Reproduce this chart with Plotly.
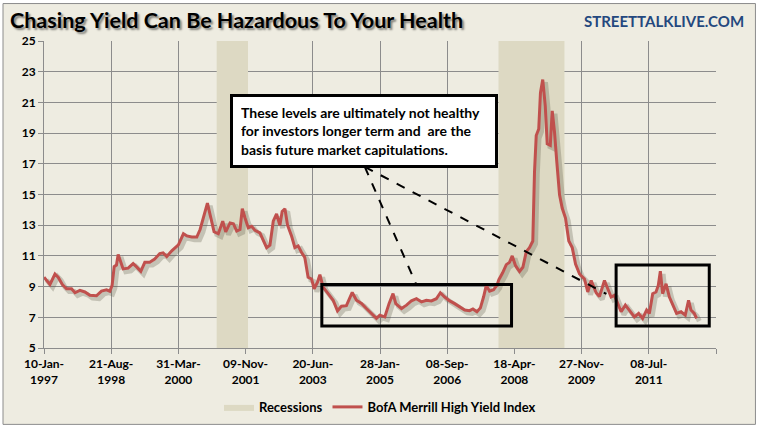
import pandas as pd
import plotly.graph_objects as go

# ---------------- data ----------------
dates = [
    "1997-01-10", "1997-03-03", "1997-04-16", "1997-05-15", "1997-06-19", "1997-07-26", "1997-09-08", "1997-10-08", "1997-11-20",
    "1998-01-03", "1998-02-15", "1998-04-14", "1998-05-28", "1998-07-11", "1998-08-09", "1998-08-29", "1998-09-16", "1998-10-06", "1998-10-21", "1998-11-05", "1998-12-03",
    "1999-01-16", "1999-03-01", "1999-03-29", "1999-05-07", "1999-06-11", "1999-07-24", "1999-09-06", "1999-10-20", "1999-11-18", "1999-12-20",
    "2000-02-02", "2000-03-31", "2000-05-14", "2000-06-13", "2000-07-26", "2000-09-08", "2000-10-07", "2000-11-05", "2000-12-10",
    "2001-01-02", "2001-02-06", "2001-03-15", "2001-04-23", "2001-05-19", "2001-06-26", "2001-07-25", "2001-08-23", "2001-09-21", "2001-10-11", "2001-11-04", "2001-12-02",
    "2002-01-01", "2002-01-30", "2002-03-14", "2002-04-12", "2002-05-12", "2002-06-10", "2002-07-09", "2002-08-07", "2002-09-05", "2002-09-25", "2002-10-19", "2002-11-11", "2002-12-16",
    "2003-01-14", "2003-02-12", "2003-03-14", "2003-04-11", "2003-05-10", "2003-06-09", "2003-07-02", "2003-07-31", "2003-08-21", "2003-09-18", "2003-11-01", "2003-12-15",
    "2004-01-22", "2004-02-26", "2004-04-09", "2004-05-30", "2004-07-06", "2004-08-19", "2004-10-01", "2004-11-14", "2004-12-28",
    "2005-01-26", "2005-03-11", "2005-04-17", "2005-05-22", "2005-06-15", "2005-08-04", "2005-09-17", "2005-10-30", "2005-12-13",
    "2006-01-26", "2006-03-10", "2006-04-23", "2006-06-05", "2006-07-10", "2006-08-17", "2006-09-30", "2006-11-12", "2006-12-26",
    "2007-02-08", "2007-03-23", "2007-04-21", "2007-05-26", "2007-06-25", "2007-07-23", "2007-08-16", "2007-09-14", "2007-10-19", "2007-11-17", "2007-12-04",
    "2008-01-06", "2008-02-07", "2008-03-06", "2008-03-30", "2008-04-28", "2008-06-02", "2008-07-01", "2008-07-31", "2008-08-28", "2008-09-26", "2008-10-11", "2008-10-26", "2008-11-17", "2008-12-02", "2008-12-22",
    "2009-01-13", "2009-01-30", "2009-02-26", "2009-03-15", "2009-04-04", "2009-04-24", "2009-05-18", "2009-06-10", "2009-07-09", "2009-08-07", "2009-09-06", "2009-10-05", "2009-11-09", "2009-12-22",
    "2010-01-20", "2010-02-19", "2010-04-03", "2010-05-02", "2010-06-15", "2010-07-14", "2010-08-12", "2010-09-10", "2010-10-09", "2010-11-08", "2010-12-15",
    "2011-01-19", "2011-03-04", "2011-04-10", "2011-05-15", "2011-06-19", "2011-07-13", "2011-08-11", "2011-09-09", "2011-09-29", "2011-10-17", "2011-11-06", "2011-12-06",
    "2012-01-04", "2012-02-01", "2012-03-07", "2012-04-15", "2012-05-22", "2012-06-20", "2012-07-11", "2012-08-09", "2012-08-29",
]
hy_yield = [
    9.61, 9.14, 9.82, 9.6, 9.14, 8.86, 8.86, 8.6, 8.75,
    8.65, 8.43, 8.4, 8.71, 8.79, 8.7, 9.08, 10.3, 10.4, 11.1, 10.8, 10.15,
    10.2, 10.5, 10.3, 10.0, 10.58, 10.58, 10.79, 11.15, 11.2, 10.96,
    11.33, 11.72, 12.44, 12.3, 12.23, 12.23, 12.72, 13.52, 14.44,
    13.69, 12.57, 12.44, 13.26, 12.57, 13.15, 13.1, 12.62, 12.72, 14.07, 13.47, 12.83,
    12.93, 12.66, 12.5, 12.08, 11.54, 11.7, 13.26, 13.73, 13.0, 13.9, 14.07, 13.0, 12.3,
    11.54, 11.65, 11.22, 10.9, 9.61, 9.5, 8.86, 9.29, 9.78, 8.97, 8.54, 8.11,
    7.42, 7.72, 7.76, 8.62, 8.11, 7.9, 7.57, 7.23, 6.93,
    7.14, 7.03, 7.89, 8.54, 7.89, 7.57, 7.79, 8.07, 8.21,
    8.0, 8.11, 8.07, 8.21, 8.6, 8.32, 8.07, 7.89, 7.68,
    7.47, 7.43, 7.54, 7.36, 7.6, 8.32, 9.08, 8.7, 8.8, 9.08, 9.45,
    9.9, 10.43, 10.58, 11.0, 10.36, 9.98, 10.26, 11.28, 11.54, 11.97, 16.48, 18.84, 19.27, 21.63, 22.49,
    20.77, 18.3, 18.2, 20.45, 19.06, 17.13, 14.98, 14.12, 13.47, 11.97, 11.54, 10.47, 9.82, 9.5,
    8.65, 9.4, 8.6, 8.35, 9.4, 8.86, 8.32, 8.43, 7.89, 7.36, 7.79,
    7.42, 7.03, 7.25, 6.93, 7.47, 7.25, 8.54, 8.65, 9.08, 10.0, 8.54, 9.18,
    8.32, 7.89, 7.25, 7.36, 7.14, 8.11, 7.47, 7.25, 6.93,
]
recession_starts = ["2001-03-01", "2007-12-01"]
recession_ends = ["2001-11-30", "2009-06-30"]

tick_dates = ["1997-01-10", "1998-08-21", "2000-03-31", "2001-11-09", "2003-06-20", "2005-01-28",
              "2006-09-08", "2008-04-18", "2009-11-27", "2011-07-08", "2013-02-15"]
tick_labels = ["10-Jan-<br>1997", "21-Aug-<br>1998", "31-Mar-<br>2000", "09-Nov-<br>2001", "20-Jun-<br>2003",
               "28-Jan-<br>2005", "08-Sep-<br>2006", "18-Apr-<br>2008", "27-Nov-<br>2009", "08-Jul-<br>2011", ""]
y_ticks = [5, 7, 9, 11, 13, 15, 17, 19, 21, 23, 25]

# highlight boxes (date range, value range)
box_x0 = ["2003-09-07", "2010-09-25"]
box_x1 = ["2008-03-24", "2012-12-18"]
box_y0 = [6.44, 6.44]
box_y1 = [9.13, 10.4]
# dashed pointer lines from the note
pointer_origin = ("2004-09-17", 16.8)
pointer_ends = [("2005-12-07", 9.22), ("2010-07-02", 8.52)]

note_text = ("These levels are ultimately not healthy<br>for investors longer term and  are the"
             "<br>basis future market capitulations.")

# ---------------- styles ----------------
BG = "#EEECE1"
GRID = "#8C8C8C"
LINE = "#C0504D"
REC = "#DDD9C3"
FONT = "Lato"

fig = go.Figure()

# recessions as filled polygons
rx, ry = [], []
y_lo, y_hi = y_ticks[0], y_ticks[-1]
for s, e in zip(recession_starts, recession_ends):
    rx += [s, s, e, e, s, None]
    ry += [y_lo, y_hi, y_hi, y_lo, y_lo, None]
fig.add_trace(go.Scatter(x=rx, y=ry, fill="toself", fillcolor=REC, mode="lines",
                         line=dict(width=0, color=REC), name="Recessions", hoverinfo="skip"))

# shadow of the line
dts = pd.to_datetime(dates)
fig.add_trace(go.Scatter(x=dts + pd.Timedelta(days=24), y=[v - 0.18 for v in hy_yield], mode="lines",
                         line=dict(color="rgba(90,85,70,0.28)", width=5), showlegend=False, hoverinfo="skip"))
fig.add_trace(go.Scatter(x=dts, y=hy_yield, mode="lines", line=dict(color=LINE, width=3),
                         name="BofA Merrill High Yield Index"))

shapes = []
for x0, x1, y0, y1 in zip(box_x0, box_x1, box_y0, box_y1):
    shapes.append(dict(type="rect", xref="x", yref="y", x0=x0, x1=x1, y0=y0, y1=y1,
                       line=dict(color="black", width=3), fillcolor="rgba(0,0,0,0)"))
for xe, ye in pointer_ends:
    shapes.append(dict(type="line", xref="x", yref="y", x0=pointer_origin[0], y0=pointer_origin[1],
                       x1=xe, y1=ye, line=dict(color="black", width=2, dash="dash")))
# chart frame
shapes.append(dict(type="rect", xref="paper", yref="paper", x0=-0.061, x1=1.0587, y0=-0.2488, y1=1.122,
                   line=dict(color="#8C8C8C", width=1), fillcolor=BG, layer="below"))

annotations = [
    dict(text="<b>Chasing Yield Can Be Hazardous To Your Health</b>", xref="paper", yref="paper",
         x=-0.053, y=1.0700, xanchor="left", yanchor="middle", showarrow=False,
         font=dict(family=FONT, size=21.5, color="black", shadow="2px 2px 2px rgba(0,0,0,0.45)")),
    dict(text="<b>STREETTALKLIVE.COM</b>", xref="paper", yref="paper", x=1.0453, y=1.066,
         xanchor="right", yanchor="middle", showarrow=False,
         font=dict(family=FONT, size=15, color="#24487E")),
    dict(text="<b>" + note_text + "</b>", xref="paper", yref="paper", x=0.4768, y=0.7082,
         xanchor="center", yanchor="middle", showarrow=False, align="left",
         width=246, height=52, borderpad=8, bordercolor="black", borderwidth=3, bgcolor="white",
         font=dict(family=FONT, size=14, color="black")),
]

fig.update_layout(
    width=762, height=434,
    margin=dict(l=44, r=45.5, t=41, b=82.3),
    paper_bgcolor="white", plot_bgcolor=BG,
    font=dict(family=FONT, size=12, color="black"),
    showlegend=True,
    legend=dict(orientation="h", x=0.5, xanchor="center", y=-0.192, yanchor="middle",
                font=dict(family=FONT, size=13, color="black", weight="bold"),
                bgcolor="rgba(0,0,0,0)", itemwidth=30, tracegroupgap=0),
    shapes=shapes, annotations=annotations,
)
fig.update_xaxes(type="date", range=[tick_dates[0], tick_dates[-1]], tickmode="array",
                 tickvals=tick_dates, ticktext=tick_labels, ticks="outside", ticklen=5, tickcolor=GRID,
                 showgrid=True, gridcolor=GRID, gridwidth=1, showline=True, linecolor=GRID, linewidth=1,
                 tickfont=dict(family=FONT, size=12, color="black", weight="bold"), tickangle=0, zeroline=False)
fig.update_yaxes(range=[y_lo, y_hi], tickmode="array", tickvals=y_ticks, ticks="outside", ticklen=5,
                 tickcolor=GRID, showgrid=True, gridcolor=GRID, gridwidth=1, showline=True, linecolor=GRID,
                 linewidth=1, tickfont=dict(family=FONT, size=12, color="black", weight="bold"), zeroline=False)

fig.write_html("out.html", config={"displayModeBar": False},
               post_script="document.body.style.margin='0';")
